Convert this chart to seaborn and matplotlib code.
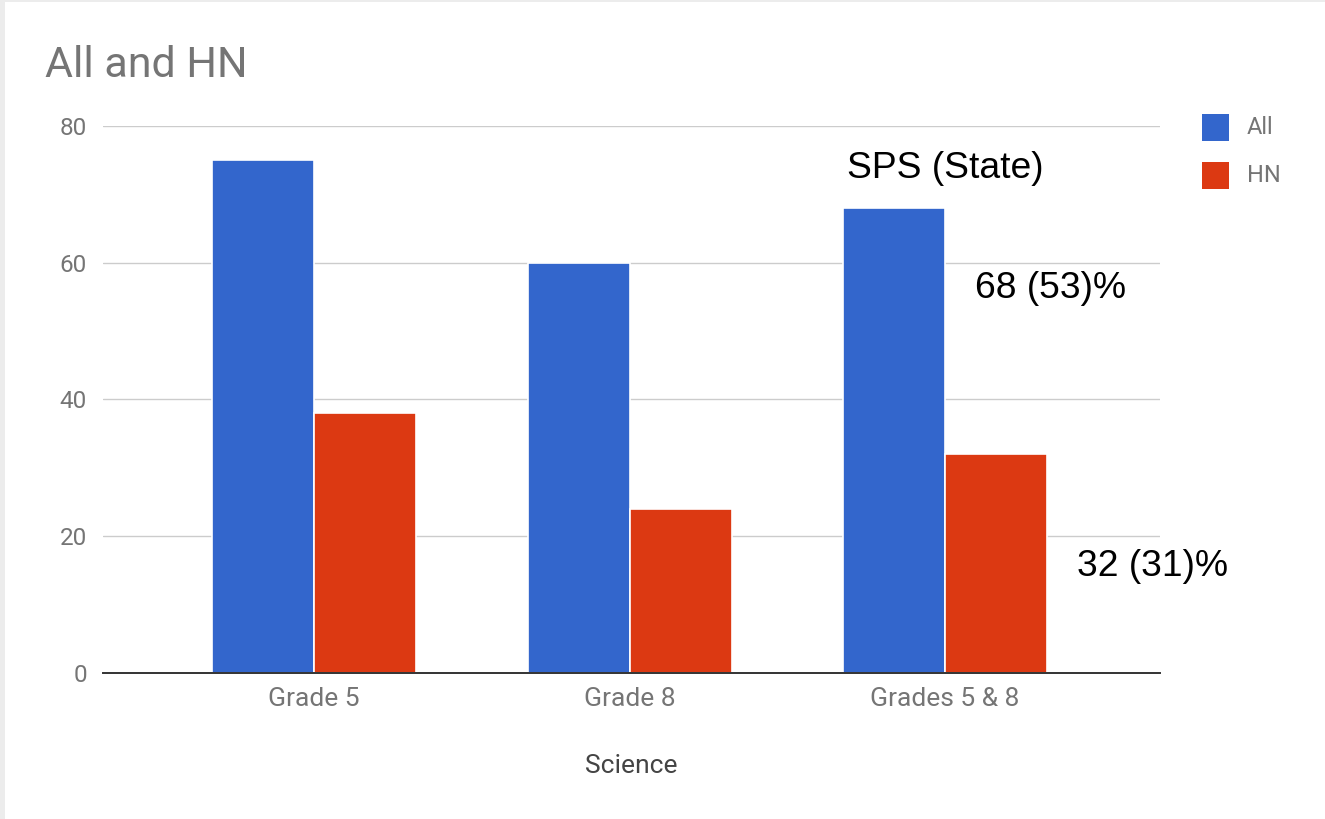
import matplotlib
matplotlib.use("Agg")
import matplotlib.pyplot as plt
import matplotlib.patches as mpatches
import seaborn as sns
import pandas as pd

# Data
categories = ["Grade 5", "Grade 8", "Grades 5 & 8"]
series_names = ["All", "HN"]
all_values = [75, 60, 68]
hn_values = [38, 24, 32]
y_ticks = [0, 20, 40, 60, 80]

title_text = "All and HN"
x_label = "Science"
note_heading = "SPS (State)"
note_all = "68 (53)%"
note_hn = "32 (31)%"

colors = {"All": "#3366cc", "HN": "#dc3912"}
text_gray = "#757575"

df = pd.DataFrame({
    "category": categories * 2,
    "series": [series_names[0]] * 3 + [series_names[1]] * 3,
    "value": all_values + hn_values,
})

sns.set_theme(style="white")
plt.rcParams["font.family"] = ["Roboto", "DejaVu Sans"]

W, H = 1325, 819
fig = plt.figure(figsize=(W / 100, H / 100), dpi=100)
fig.patch.set_facecolor("#ececec")
# white card with a thin gray edge on top and left
fig.add_artist(mpatches.Rectangle((5 / W, 0), 1, 1 - 2 / H, transform=fig.transFigure,
                                  facecolor="white", edgecolor="none", zorder=0))

ax_left, ax_right = 103, 1160
ax_top, ax_bottom = 126, 672.5
ax = fig.add_axes([ax_left / W, 1 - ax_bottom / H, (ax_right - ax_left) / W, (ax_bottom - ax_top) / H])
ax.set_facecolor("none")

sns.barplot(data=df, x="category", y="value", hue="series", palette=colors,
            width=0.647, edgecolor="white", linewidth=1.2, saturation=1,
            ax=ax, legend=False, zorder=3)

ax.set_xlim(-0.669, 2.681)
ax.set_ylim(0, 80)
ax.set_yticks(y_ticks)
ax.set_yticklabels([str(t) for t in y_ticks])
ax.grid(axis="y", color="#cccccc", linewidth=1, zorder=0)
ax.grid(axis="x", visible=False)
for s in ["top", "right", "left"]:
    ax.spines[s].set_visible(False)
ax.spines["bottom"].set_color("#333333")
ax.spines["bottom"].set_linewidth(1.4)
ax.spines["bottom"].set_zorder(4)
ax.tick_params(axis="both", length=0, labelcolor=text_gray)
ax.tick_params(axis="y", pad=11.5, labelsize=17.5)
ax.tick_params(axis="x", pad=10.5, labelsize=19)
ax.set_xlabel(x_label, fontsize=19, color="#444444", labelpad=31)
ax.set_ylabel("")

# Title
fig.text(45 / W, 1 - 77 / H, title_text, fontsize=31, color=text_gray, ha="left", va="baseline")

# Legend
for i, name in enumerate(series_names):
    yc = 127 + i * 48.5
    fig.add_artist(mpatches.Rectangle((1202 / W, 1 - (yc + 13.5) / H), 27 / W, 27 / H,
                                      transform=fig.transFigure, facecolor=colors[name],
                                      edgecolor="none"))
    fig.text(1247 / W, 1 - yc / H, name, fontsize=17, color=text_gray, ha="left", va="center")

# Annotations
note_font = dict(family=["Liberation Sans", "DejaVu Sans"], fontsize=26.8, color="black")
fig.text(847 / W, 1 - 169 / H, note_heading, ha="left", va="center", **note_font)
fig.text(975 / W, 1 - 288 / H, note_all, ha="left", va="center", **note_font)
fig.text(1077 / W, 1 - 567 / H, note_hn, ha="left", va="center", **note_font)

fig.savefig("out.png", dpi=100, facecolor=fig.get_facecolor())
